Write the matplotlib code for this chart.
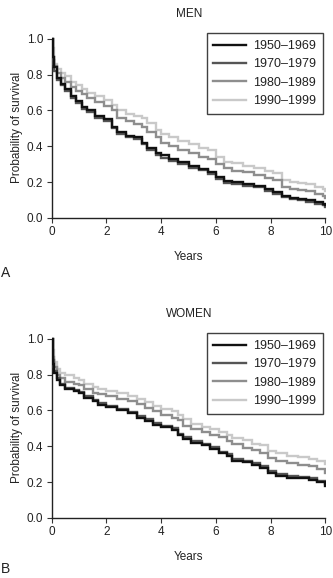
import matplotlib
matplotlib.use("Agg")
import matplotlib.pyplot as plt

plt.rcParams['font.family'] = ['Liberation Sans', 'DejaVu Sans']

periods = ['1950–1969', '1970–1979', '1980–1989', '1990–1999']
colors = ['#111111', '#555555', '#8e8e8e', '#c9c9c9']

# Kaplan-Meier style survival estimates, read at the step times below
men_years = [0, 0.05, 0.1, 0.2, 0.35, 0.5, 0.7, 0.9, 1.1, 1.3, 1.6, 1.9, 2.2, 2.4, 2.7,
             3.0, 3.3, 3.5, 3.8, 4.0, 4.3, 4.6, 5.0, 5.4, 5.7, 6.0, 6.3, 6.6, 7.0, 7.4,
             7.8, 8.1, 8.4, 8.7, 9.0, 9.3, 9.6, 9.9, 10]
men_1950 = [1.0, 0.90, 0.84, 0.78, 0.75, 0.72, 0.68, 0.65, 0.62, 0.60, 0.57, 0.55, 0.51, 0.48, 0.46,
            0.45, 0.42, 0.39, 0.36, 0.35, 0.33, 0.31, 0.29, 0.275, 0.255, 0.23, 0.205, 0.20, 0.19, 0.18,
            0.16, 0.145, 0.12, 0.11, 0.105, 0.10, 0.09, 0.08, 0.07]
men_1970 = [1.0, 0.88, 0.82, 0.77, 0.74, 0.71, 0.67, 0.64, 0.61, 0.59, 0.56, 0.54, 0.50, 0.47, 0.45,
            0.44, 0.41, 0.38, 0.35, 0.335, 0.315, 0.30, 0.28, 0.265, 0.245, 0.215, 0.195, 0.19, 0.18, 0.17,
            0.15, 0.135, 0.115, 0.105, 0.10, 0.09, 0.08, 0.07, 0.06]
men_1980 = [1.0, 0.90, 0.85, 0.81, 0.78, 0.76, 0.73, 0.71, 0.69, 0.67, 0.645, 0.625, 0.60, 0.56, 0.54,
            0.525, 0.51, 0.48, 0.45, 0.42, 0.40, 0.38, 0.36, 0.34, 0.33, 0.30, 0.28, 0.26, 0.255, 0.24,
            0.22, 0.21, 0.17, 0.16, 0.155, 0.15, 0.135, 0.12, 0.11]
men_1990 = [1.0, 0.95, 0.86, 0.83, 0.81, 0.79, 0.76, 0.74, 0.72, 0.70, 0.68, 0.66, 0.63, 0.60, 0.58,
            0.57, 0.555, 0.53, 0.49, 0.47, 0.45, 0.43, 0.41, 0.39, 0.38, 0.34, 0.31, 0.305, 0.29, 0.28,
            0.26, 0.25, 0.21, 0.20, 0.195, 0.19, 0.175, 0.16, 0.15]

women_years = [0, 0.05, 0.1, 0.2, 0.3, 0.5, 0.8, 1.0, 1.2, 1.5, 1.7, 2.0, 2.4, 2.8, 3.1, 3.4,
               3.7, 4.0, 4.4, 4.6, 4.8, 5.1, 5.5, 5.8, 6.1, 6.4, 6.6, 7.0, 7.3, 7.6, 7.9,
               8.2, 8.6, 9.0, 9.4, 9.7, 10]
women_1950 = [1.0, 0.86, 0.81, 0.77, 0.74, 0.72, 0.71, 0.70, 0.67, 0.65, 0.63, 0.62, 0.60, 0.585, 0.56, 0.54,
              0.52, 0.505, 0.49, 0.46, 0.44, 0.42, 0.405, 0.385, 0.36, 0.345, 0.32, 0.31, 0.295, 0.28, 0.25,
              0.235, 0.225, 0.22, 0.21, 0.20, 0.18]
women_1970 = [1.0, 0.88, 0.82, 0.78, 0.75, 0.725, 0.715, 0.705, 0.68, 0.66, 0.64, 0.625, 0.61, 0.59, 0.57, 0.55,
              0.53, 0.515, 0.50, 0.47, 0.45, 0.43, 0.415, 0.395, 0.37, 0.355, 0.33, 0.32, 0.305, 0.29, 0.26,
              0.245, 0.235, 0.23, 0.22, 0.205, 0.19]
women_1980 = [1.0, 0.90, 0.84, 0.80, 0.78, 0.76, 0.745, 0.74, 0.72, 0.70, 0.69, 0.68, 0.665, 0.65, 0.635, 0.615,
              0.595, 0.575, 0.56, 0.545, 0.515, 0.495, 0.48, 0.465, 0.45, 0.43, 0.41, 0.39, 0.38, 0.365, 0.335,
              0.32, 0.305, 0.295, 0.29, 0.275, 0.25]
women_1990 = [1.0, 0.94, 0.87, 0.83, 0.81, 0.795, 0.78, 0.77, 0.75, 0.73, 0.72, 0.71, 0.695, 0.68, 0.665, 0.645,
              0.625, 0.61, 0.595, 0.575, 0.55, 0.525, 0.51, 0.495, 0.48, 0.465, 0.445, 0.435, 0.415, 0.405, 0.375,
              0.36, 0.345, 0.34, 0.33, 0.32, 0.30]

x_ticks = [0, 2, 4, 6, 8, 10]
y_ticks = [0.0, 0.2, 0.4, 0.6, 0.8, 1.0]

fig = plt.figure(figsize=(3.33, 5.78), dpi=100)
ax_men = fig.add_axes([0.155, 0.623, 0.824, 0.313])
ax_women = fig.add_axes([0.155, 0.104, 0.824, 0.313])

panels = [
    (ax_men, men_years, [men_1950, men_1970, men_1980, men_1990]),
    (ax_women, women_years, [women_1950, women_1970, women_1980, women_1990]),
]

for ax, yrs, series in panels:
    for i, (label, vals, c) in enumerate(zip(periods, series, colors)):
        ax.plot(yrs, vals, drawstyle='steps-post', color=c, lw=1.7,
                label=label, zorder=10 - i, solid_joinstyle='miter')
    ax.set_xlim(0, 10.02)
    ax.set_ylim(0, 1.01)
    ax.spines['top'].set_visible(False)
    ax.spines['right'].set_visible(False)
    ax.spines['left'].set_bounds(0, 1)
    ax.spines['bottom'].set_bounds(0, 10)
    for s in ('left', 'bottom'):
        ax.spines[s].set_color('#222222')
        ax.spines[s].set_linewidth(1.0)
    ax.set_xticks(x_ticks)
    ax.set_xticklabels([str(t) for t in x_ticks])
    ax.set_yticks(y_ticks)
    ax.set_yticklabels(['%.1f' % t for t in y_ticks])
    ax.tick_params(length=3.5, width=0.8, color='#333333', labelsize=8.5,
                   labelcolor='#222222', pad=2.5)
    ax.set_ylabel('Probability of survival', fontsize=8.5, color='#222222', labelpad=3)
    leg = ax.legend(loc='upper right', bbox_to_anchor=(0.99, 1.02), fontsize=9,
                    frameon=True, fancybox=False, handlelength=2.6, handletextpad=0.6,
                    labelspacing=0.5, borderpad=0.55, borderaxespad=0)
    leg.get_frame().set_edgecolor('#111111')
    leg.get_frame().set_linewidth(1.0)
    for txt in leg.get_texts():
        txt.set_color('#222222')

fig.text(0.567, 0.975, 'MEN', ha='center', va='center', fontsize=8.5, color='#222222')
fig.text(0.567, 0.555, 'Years', ha='center', va='center', fontsize=8.5, color='#222222')
fig.text(0.004, 0.528, 'A', ha='left', va='center', fontsize=10, color='#222222')
fig.text(0.567, 0.456, 'WOMEN', ha='center', va='center', fontsize=8.5, color='#222222')
fig.text(0.567, 0.036, 'Years', ha='center', va='center', fontsize=8.5, color='#222222')
fig.text(0.004, 0.004, 'B', ha='left', va='bottom', fontsize=10, color='#222222')

fig.savefig('out.png', dpi=100)
